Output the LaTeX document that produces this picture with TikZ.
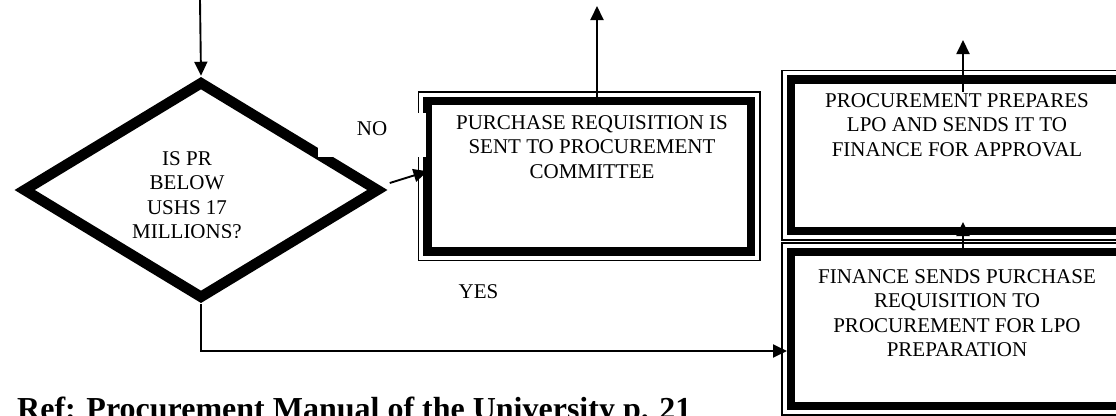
\documentclass[tikz,border=0pt]{standalone}
\usepackage{fontspec}
\setmainfont{Liberation Serif}
\usetikzlibrary{arrows.meta,shapes.geometric}
\begin{document}
\begin{tikzpicture}[x=1pt,y=-1pt,
  frame/.style={draw, line width=8.5pt, rectangle, inner sep=0pt, outer sep=0pt},
  thinframe/.style={draw, line width=1.3pt},
  dia/.style={draw, line width=10.5pt, diamond, inner sep=0pt},
  arr/.style={line width=1.9pt, -{Triangle[length=14pt,width=13pt]}},
  txt/.style={font=\fontsize{21}{24.5}\selectfont, align=center, inner sep=0pt},
  lbl/.style={font=\fontsize{21}{24.5}\selectfont, inner sep=0pt}
]
\useasboundingbox (0,0) rectangle (1116,415);
\clip (0,0) rectangle (1116,415);

% diamond
\node[dia, minimum width=357pt, minimum height=218pt] (d) at (201,190) {};
\begin{scope}
  \clip (90,140) rectangle (300,237);
  \node[txt, anchor=north] (dt) at (187,151) {IS PR\\BELOW\\USHS 17\\MILLIONS?};
\end{scope}

% box 1
\node[frame, minimum width=323.5pt, minimum height=150.5pt] (b1) at (589.25,176.25) {};
\draw[thinframe] ([shift={(-9pt,9pt)}]b1.north west) rectangle ([shift={(9pt,-9pt)}]b1.south east);
\node[txt, anchor=north] (t1) at (592,115) {PURCHASE REQUISITION IS\\SENT TO PROCUREMENT\\COMMITTEE};

% box 2
\node[frame, minimum width=332pt, minimum height=151.5pt] (b2) at (957,155.25) {};
\draw[thinframe] ([shift={(-9pt,9pt)}]b2.north west) rectangle ([shift={(9pt,-9pt)}]b2.south east);
\node[txt, anchor=north] (t2) at (957,93) {PROCUREMENT PREPARES\\LPO AND SENDS IT TO\\FINANCE FOR APPROVAL};

% box 3
\node[frame, minimum width=332pt, minimum height=154pt] (b3) at (957,329) {};
\draw[thinframe] ([shift={(-9pt,9pt)}]b3.north west) rectangle ([shift={(9pt,-9pt)}]b3.south east);
\node[txt, anchor=north] (t3) at (957,269) {FINANCE SENDS PURCHASE\\REQUISITION TO\\PROCUREMENT FOR LPO\\PREPARATION};

% labels
\node[lbl, fill=white, minimum width=108pt, minimum height=44pt, text height=14pt, text depth=14pt] (no) at (372,135) {NO};
\node[lbl, anchor=base] (yes) at (478.5,298) {YES};

% connectors
\coordinate (in) at (200,0);
\coordinate (o1) at (597,6);
\coordinate (o2) at (963,40);
\draw[arr] (in) -- (d.north);
\draw[arr] ([xshift=5pt,yshift=7pt]d.east) -- ([yshift=5pt]b1.west);
\draw[arr] ([yshift=-4pt]b1.north -| o1) -- (o1);
\draw[arr] ([yshift=-12pt]b2.north -| o2) -- (o2);
\draw[arr] (b3.north -| o2) -- ([yshift=9pt]b2.south -| o2);
\draw[arr] (d.south) |- ([xshift=-4pt]b3.west |- 0,351);

% reference line (cut off by the lower edge, as in the source)
\node[anchor=base west, inner sep=0pt, font=\fontsize{32}{36}\selectfont\bfseries] (ref) at (17,419) {Ref: Procurement Manual of the University p. 21};
\end{tikzpicture}
\end{document}
